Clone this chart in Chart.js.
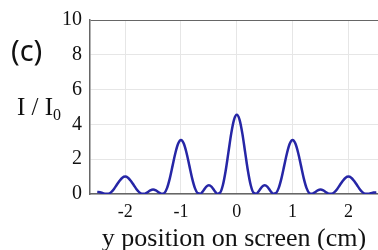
<!DOCTYPE html>
<html>
<head>
<meta charset="utf-8">
<script src="https://cdn.jsdelivr.net/npm/chart.js@4.4.0/dist/chart.umd.min.js"></script>
<style>
  html, body { margin: 0; padding: 0; background: #fff; }
  #wrap { width: 378px; height: 250px; }
</style>
</head>
<body>
<div id="wrap"><canvas id="chart" width="378" height="250"></canvas></div>
<script>
// y position on screen (cm)
var positions = [
  -2.50, -2.45, -2.40, -2.35, -2.30, -2.25, -2.20, -2.15, -2.10, -2.05,
  -2.00, -1.95, -1.90, -1.85, -1.80, -1.75, -1.70, -1.65, -1.60, -1.55,
  -1.50, -1.45, -1.40, -1.35, -1.30, -1.25, -1.20, -1.15, -1.10, -1.05,
  -1.00, -0.95, -0.90, -0.85, -0.80, -0.75, -0.70, -0.65, -0.60, -0.55,
  -0.50, -0.45, -0.40, -0.35, -0.30, -0.25, -0.20, -0.15, -0.10, -0.05,
   0.00,
   0.05,  0.10,  0.15,  0.20,  0.25,  0.30,  0.35,  0.40,  0.45,  0.50,
   0.55,  0.60,  0.65,  0.70,  0.75,  0.80,  0.85,  0.90,  0.95,  1.00,
   1.05,  1.10,  1.15,  1.20,  1.25,  1.30,  1.35,  1.40,  1.45,  1.50,
   1.55,  1.60,  1.65,  1.70,  1.75,  1.80,  1.85,  1.90,  1.95,  2.00,
   2.05,  2.10,  2.15,  2.20,  2.25,  2.30,  2.35,  2.40,  2.45,  2.50
];

// I / I0 at each position
var intensity = [
  0.11, 0.10, 0.05, 0.01, 0.02, 0.11, 0.29, 0.53, 0.76, 0.94,
  1.00, 0.94, 0.76, 0.53, 0.29, 0.11, 0.02, 0.01, 0.10, 0.21,
  0.26, 0.21, 0.10, 0.01, 0.05, 0.34, 0.90, 1.63, 2.36, 2.90,
  3.10, 2.90, 2.36, 1.63, 0.90, 0.34, 0.05, 0.02, 0.19, 0.41,
  0.50, 0.41, 0.19, 0.02, 0.07, 0.50, 1.32, 2.39, 3.47, 4.26,
  4.55,
  4.26, 3.47, 2.39, 1.32, 0.50, 0.07, 0.02, 0.19, 0.41, 0.50,
  0.41, 0.19, 0.02, 0.05, 0.34, 0.90, 1.63, 2.36, 2.90, 3.10,
  2.90, 2.36, 1.63, 0.90, 0.34, 0.05, 0.01, 0.10, 0.21, 0.26,
  0.21, 0.10, 0.01, 0.02, 0.11, 0.29, 0.53, 0.76, 0.94, 1.00,
  0.94, 0.76, 0.53, 0.29, 0.11, 0.02, 0.01, 0.04, 0.08, 0.09
];

var xTicks = [-2, -1, 0, 1, 2];
var yTicks = [0, 2, 4, 6, 8, 10];

var points = positions.map(function (p, i) { return { x: p, y: intensity[i] }; });

var sideLabels = {
    id: 'sideLabels',
    afterDraw: function (chart) {
        var ctx = chart.ctx;
        ctx.save();
        ctx.fillStyle = '#111';
        ctx.textBaseline = 'alphabetic';
        ctx.textAlign = 'left';
        ctx.font = '29px "Noto Sans"';
        ctx.fillText('(c)', 11, 61);
        ctx.font = '25px "Liberation Serif"';
        ctx.fillText('I / I', 17, 115);
        var w = ctx.measureText('I / I').width;
        ctx.font = '16px "Liberation Serif"';
        ctx.fillText('0', 17 + w, 120);
        ctx.restore();
    }
};

var chart = new Chart(document.getElementById('chart'), {
    type: 'line',
    data: {
        datasets: [{
            data: points,
            borderColor: '#2626a6',
            borderWidth: 2.5,
            pointRadius: 0,
            fill: false,
            cubicInterpolationMode: 'monotone'
        }]
    },
    options: {
        responsive: false,
        animation: false,
        devicePixelRatio: 1,
        layout: { padding: { top: 16, right: 0, bottom: 0, left: 0 } },
        plugins: {
            legend: { display: false },
            tooltip: { enabled: false }
        },
        scales: {
            x: {
                type: 'linear',
                min: -2.63,
                max: 2.53,
                afterBuildTicks: function (scale) {
                    scale.ticks = xTicks.map(function (v) { return { value: v }; });
                },
                afterFit: function (scale) { scale.height = 56; },
                grid: { color: '#e6e6e6', lineWidth: 1, drawTicks: false },
                border: { color: '#666', width: 1.5 },
                ticks: {
                    color: '#111',
                    padding: 7,
                    font: { family: '"Liberation Serif"', size: 18 }
                },
                title: {
                    display: true,
                    text: 'y position on screen (cm)',
                    color: '#111',
                    padding: { top: 0, bottom: 0 },
                    font: { family: '"Liberation Serif"', size: 26, lineHeight: 0.85 }
                }
            },
            y: {
                min: 0,
                max: 10,
                afterBuildTicks: function (scale) {
                    scale.ticks = yTicks.map(function (v) { return { value: v }; });
                },
                afterFit: function (scale) { scale.width = 90; },
                grid: {
                    color: function (c) { return c.tick && c.tick.value === 10 ? '#666' : '#e6e6e6'; },
                    lineWidth: 1,
                    drawTicks: false
                },
                border: { color: '#666', width: 1.5 },
                ticks: {
                    color: '#111',
                    padding: 8,
                    font: { family: '"Liberation Serif"', size: 20 }
                }
            }
        }
    },
    plugins: [sideLabels]
});
</script>
</body>
</html>
